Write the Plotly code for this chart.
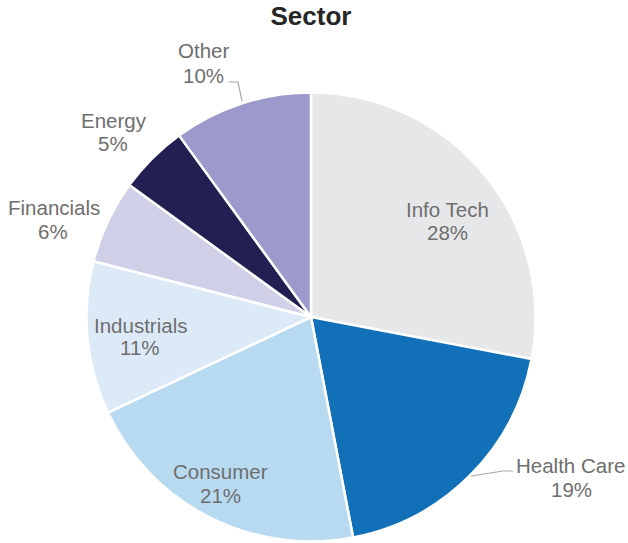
import plotly.graph_objects as go

W, H = 628, 543

sectors = ["Info Tech", "Health Care", "Consumer", "Industrials", "Financials", "Energy", "Other"]
weights = [28, 19, 21, 11, 6, 5, 10]
colors = ["#e6e7e9", "#1170b8", "#b8daf1", "#dceaf7", "#d0cfe8", "#221f52", "#9c99cc"]

# label positions in pixels (name line centre, percent line centre) -- styling only
label_name_pos = [(448, 209), (570, 465), (220, 471), (140, 325.5), (54, 207.5), (114.5, 120.5), (203, 51)]
label_pct_pos = [(447, 232.5), (571, 489), (220, 495.5), (140, 347.5), (53, 231.5), (113, 143.5), (203, 76)]

# leader lines in pixels
leaders = [
    [(471, 476), (503, 471), (513, 471)],
    [(242, 101), (238, 82), (229, 82)],
]

cx, cy, r = 311, 317, 224.5


def px(x):
    return x / W


def py(y):
    return 1 - y / H


fig = go.Figure(
    go.Pie(
        labels=sectors,
        values=weights,
        sort=False,
        direction="clockwise",
        rotation=0,
        marker=dict(colors=colors, line=dict(color="white", width=2.5)),
        textinfo="none",
        hoverinfo="label+percent",
        showlegend=False,
        domain=dict(x=[px(cx - r), px(cx + r)], y=[py(cy + r), py(cy - r)]),
    )
)

font = dict(family="Liberation Sans, Arial, sans-serif", size=20.5, color="#6e6e6e")
annotations = []
for name, val, (nx, ny), (qx, qy) in zip(sectors, weights, label_name_pos, label_pct_pos):
    annotations.append(dict(x=px(nx), y=py(ny), xref="paper", yref="paper", text=name,
                            showarrow=False, xanchor="center", yanchor="middle", font=font))
    annotations.append(dict(x=px(qx), y=py(qy), xref="paper", yref="paper", text=f"{val}%",
                            showarrow=False, xanchor="center", yanchor="middle", font=font))

shapes = []
for pts in leaders:
    path = "M " + " L ".join(f"{px(x)},{py(y)}" for x, y in pts)
    shapes.append(dict(type="path", path=path, xref="paper", yref="paper",
                       line=dict(color="#a6a6a6", width=1.2)))

fig.update_layout(
    width=W,
    height=H,
    margin=dict(l=0, r=0, t=0, b=0),
    paper_bgcolor="white",
    plot_bgcolor="white",
    title=dict(text="<b>Sector</b>", x=px(311), y=py(16), xanchor="center", yanchor="middle",
               xref="paper", yref="paper",
               font=dict(family="Liberation Sans, Arial, sans-serif", size=26, color="#262626")),
    annotations=annotations,
    shapes=shapes,
)

fig.write_html("out.html", config={"displayModeBar": False},
               post_script="document.body.style.margin='0';document.body.style.overflow='hidden';")
